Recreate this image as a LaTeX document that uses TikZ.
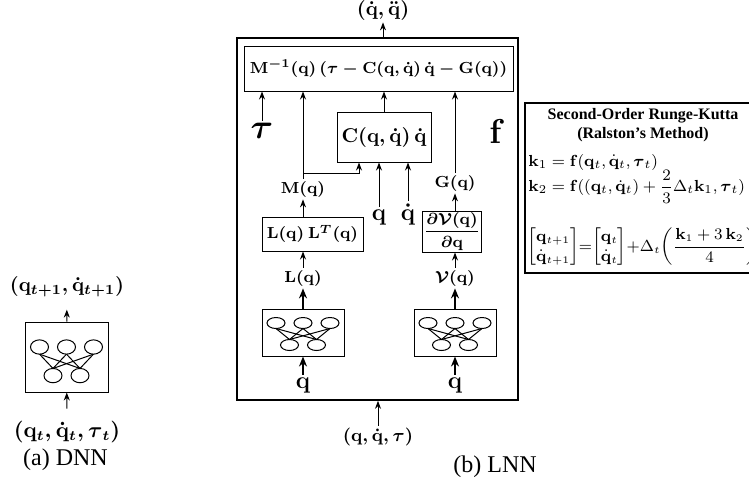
\documentclass[tikz,border=0pt]{standalone}
\usepackage[no-math]{fontspec}
\setmainfont{Liberation Serif}
\usepackage{amsmath}
\usepackage{amssymb}
\usetikzlibrary{arrows.meta,positioning}

\newcommand{\bq}{\mathbf{q}}
\newcommand{\bqd}{\dot{\mathbf{q}}}
\newcommand{\btau}{\boldsymbol{\tau}}

\tikzset{
  blk/.style={draw,rectangle,inner sep=1pt,line width=0.5pt},
  outerblk/.style={draw,rectangle,line width=0.8pt},
  lbl/.style={inner sep=1pt},
  arr/.style={-{Stealth[length=4pt,width=3pt]},line width=0.5pt},
  arrb/.style={-{Stealth[length=5pt,width=4pt]},line width=0.9pt},
  nnet/.pic={
    \foreach \a in {-27,0,27}{
      \foreach \b in {-13.5,13.5}{\draw[line width=0.5pt] (\a,-4.5) -- (\b,6.5);}
    }
    \foreach \a in {-27,0,27}{\draw[line width=0.5pt,fill=white] (\a,-10) ellipse (9 and 5.5);}
    \foreach \b in {-13.5,13.5}{\draw[line width=0.5pt,fill=white] (\b,12) ellipse (9 and 5.5);}
  },
}

\begin{document}
\begin{tikzpicture}[x=0.5pt,y=-0.5pt]
  \useasboundingbox (0,0) rectangle (749,488);

  % (a) DNN
  \node[blk,minimum width=41.5pt,minimum height=35pt] (dnn) at (66.5,357) {};
  \pic[yscale=1.3] at (66.5,360) {nnet};
  \node[lbl,font=\fontsize{10}{12}\selectfont\boldmath] (dnnout) at (67,287) {$(\bq_{t+1},\bqd_{t+1})$};
  \node[lbl,font=\fontsize{10.6}{13}\selectfont\boldmath] (dnnin) at (67,432) {$(\bq_t,\bqd_t,\btau_t)$};
  \draw[arr,shorten <=5pt] (dnnin) -- (dnn);
  \draw[arr,shorten >=5pt] (dnn) -- (dnnout);
  \node[font=\large] (capa) at (65.5,460) {(a) DNN};

  % (b) LNN
  \node[outerblk,minimum width=140.5pt,minimum height=181pt] (lnn) at (377.5,219) {};
  \node[lbl,font=\boldmath] (out) at (383,10) {$(\bqd,\ddot{\bq})$};
  \node[blk,minimum width=134.5pt,minimum height=22.5pt,font=\fontsize{8.5}{10}\selectfont\boldmath] (minv) at (378.5,68.5)
    {$\mathbf{M}^{-1}(\bq)\,(\btau-\mathbf{C}(\bq,\bqd)\,\bqd-\mathbf{G}(\bq))$};
  \node[lbl,font=\LARGE\boldmath] (tau) at (262,131) {$\btau$};
  \node[blk,minimum width=47pt,minimum height=25pt,font=\boldmath] (cbox) at (384,137) {$\mathbf{C}(\bq,\bqd)\,\bqd$};
  \node[lbl,font=\LARGE\bfseries] (flbl) at (497,131) {$\mathbf{f}$};
  \node[lbl,font=\footnotesize\boldmath] (mq) at (303,189) {$\mathbf{M}(\bq)$};
  \node[lbl,font=\footnotesize\boldmath] (gq) at (455,183) {$\mathbf{G}(\bq)$};
  \node[lbl,font=\large\boldmath,anchor=base] (qc) at (379,220) {$\bq$};
  \node[lbl,font=\large\boldmath,anchor=base] (qdc) at (408,220) {$\bqd$};
  \node[blk,minimum width=50.5pt,minimum height=17pt,font=\footnotesize\boldmath] (llt) at (312.5,234) {$\mathbf{L}(\bq)\ \mathbf{L}^T(\bq)$};
  \node[blk,minimum width=22.5pt,minimum height=20.5pt,inner sep=0.5pt,font=\footnotesize\boldmath] (dv) at (452,231.5)
    {$\dfrac{\partial\mathcal{V}(\bq)}{\partial\bq}$};
  \node[lbl,font=\footnotesize\boldmath] (lq) at (303,278) {$\mathbf{L}(\bq)$};
  \node[lbl,font=\footnotesize\boldmath] (vq) at (455,278) {$\mathcal{V}(\bq)$};
  \node[blk,minimum width=41pt,minimum height=23.5pt] (nnl) at (303,332.5) {};
  \node[blk,minimum width=41pt,minimum height=23.5pt] (nnr) at (455,332.5) {};
  \pic at (303,333) {nnet};
  \pic at (455,333) {nnet};
  \node[lbl,font=\large\boldmath] (ql) at (303,385) {$\bq$};
  \node[lbl,font=\large\boldmath] (qr) at (455,385) {$\bq$};
  \node[lbl,font=\fontsize{9.5}{11}\selectfont\boldmath] (inp) at (378,437) {$(\bq,\bqd,\btau)$};
  \node[font=\large] (capb) at (495,467) {(b) LNN};

  \coordinate (mjoin) at (303,173);
  \draw[arr] (out.south |- lnn.north) -- (out.south);
  \draw[arr] (tau.north) -- (tau.north |- minv.south);
  \draw[arr] (mq.north) -- (mq.north |- minv.south);
  \draw[arr] (mjoin) -| ([xshift=-12.5pt]cbox.south);
  \draw[arr] (cbox.north) -- (cbox.north |- minv.south);
  \draw[arr] (gq.north) -- (gq.north |- minv.south);
  \draw[arr] (qc.north) -- (qc.north |- cbox.south);
  \draw[arr] (qdc.north) -- (qdc.north |- cbox.south);
  \draw[arr] (mq.south |- llt.north) -- (mq.south);
  \draw[arr] (gq.south |- dv.north) -- (gq.south);
  \draw[arr] (lq.north) -- (lq.north |- llt.south);
  \draw[arr] (vq.north) -- (vq.north |- dv.south);
  \draw[arrb] (nnl.north) -- (lq.south);
  \draw[arrb] (nnr.north) -- (vq.south);
  \draw[arrb] (ql.north) -- (nnl.south);
  \draw[arrb] (qr.north) -- (nnr.south);
  \draw[arr] (inp.north) -- (inp.north |- lnn.south);

  % Runge-Kutta box
  \node[blk,line width=0.6pt,minimum width=113.5pt,minimum height=85pt] (rk) at (638.5,188) {};
  \node[lbl,align=center,font=\footnotesize\bfseries] (rktitle) at (643,125) {Second-Order Runge-Kutta\\(Ralston's Method)};
  \node[lbl,anchor=west,font=\fontsize{8.3}{10}\selectfont] (k1) at (526,162) {$\mathbf{k}_1=\mathbf{f}(\bq_t,\bqd_t,\btau_t)$};
  \node[lbl,anchor=west,font=\fontsize{8.3}{10}\selectfont] (k2) at (526,187) {$\mathbf{k}_2=\mathbf{f}((\bq_t,\bqd_t)+\dfrac{2}{3}\Delta_t\mathbf{k}_1,\btau_t)$};
  \node[lbl,anchor=west,font=\fontsize{7.8}{10}\selectfont] (upd) at (525,247)
    {$\begin{bmatrix}\bq_{t+1}\\\bqd_{t+1}\end{bmatrix}\!{=}\!\begin{bmatrix}\bq_t\\\bqd_t\end{bmatrix}\!{+}\Delta_t\!\left(\dfrac{\mathbf{k}_1+3\,\mathbf{k}_2}{4}\right)$};
\end{tikzpicture}
\end{document}
